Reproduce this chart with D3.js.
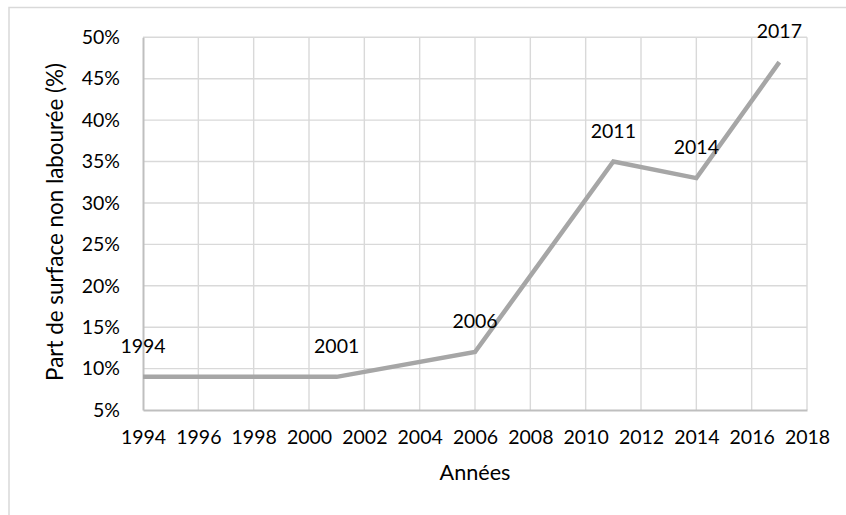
<!DOCTYPE html>
<html><head><meta charset="utf-8">
<script src="https://cdn.jsdelivr.net/npm/d3@7"></script>
<style>
html,body{margin:0;padding:0;background:#fff;}
svg text{font-family:Lato,"Open Sans",sans-serif;fill:#000;}
</style></head>
<body><svg id="c" width="846" height="515"></svg>
<script>
const years = [1994, 2001, 2006, 2011, 2014, 2017];
const shares = [9, 9, 12, 35, 33, 47];
const pointLabels = ["1994", "2001", "2006", "2011", "2014", "2017"];
const xTicks = [1994, 1996, 1998, 2000, 2002, 2004, 2006, 2008, 2010, 2012, 2014, 2016, 2018];
const yTicks = [5, 10, 15, 20, 25, 30, 35, 40, 45, 50];
const xTitle = "Années";
const yTitle = "Part de surface non labourée (%)";

const svg = d3.select("#c");
const L = 143, R = 807, T = 37.3, B = 410;
const x = d3.scaleLinear().domain([1994, 2018]).range([L, R]);
const y = d3.scaleLinear().domain([5, 50]).range([B, T]);

function fitSize(str, target) {
  const t = svg.append("text").attr("font-size", 20).text(str);
  const w = t.node().getComputedTextLength();
  t.remove();
  return 20 * target / w;
}
const fs = 19.5;
const fsX = fitSize(xTitle, 71);
const fsY = fitSize(yTitle, 318);

// outer frame
svg.append("rect").attr("x", 9).attr("y", 7.5).attr("width", 900).attr("height", 600)
  .attr("fill", "none").attr("stroke", "#d9d9d9").attr("stroke-width", 1.5);

// grid
svg.append("g").selectAll("line").data(yTicks.slice(1)).join("line")
  .attr("x1", L).attr("x2", R).attr("y1", d => y(d)).attr("y2", d => y(d))
  .attr("stroke", "#d9d9d9").attr("stroke-width", 1.4);
svg.append("g").selectAll("line").data(xTicks.slice(1)).join("line")
  .attr("x1", d => x(d)).attr("x2", d => x(d)).attr("y1", T).attr("y2", B)
  .attr("stroke", "#d9d9d9").attr("stroke-width", 1.4);

// axes
const xAxis = svg.append("g").attr("transform", `translate(0,${B})`)
  .call(d3.axisBottom(x).tickValues(xTicks).tickFormat(d3.format("d")).tickSize(0).tickPadding(34 - 0.71 * fs));
xAxis.select(".domain").attr("stroke", "#bfbfbf").attr("stroke-width", 2);
xAxis.selectAll("text").attr("font-size", fs).attr("font-family", "Lato");

const yAxis = svg.append("g").attr("transform", `translate(${L},0)`)
  .call(d3.axisLeft(y).tickValues(yTicks).tickFormat(d => d + "%").tickSize(0).tickPadding(23));
yAxis.select(".domain").attr("stroke", "#bfbfbf").attr("stroke-width", 2);
yAxis.selectAll("text").attr("font-size", fs).attr("font-family", "Lato");

// line
const data = years.map((d, i) => ({ year: d, v: shares[i], label: pointLabels[i] }));
svg.append("path").datum(data)
  .attr("d", d3.line().x(d => x(d.year)).y(d => y(d.v)))
  .attr("fill", "none").attr("stroke", "#a6a6a6").attr("stroke-width", 4.5)
  .attr("stroke-linejoin", "miter");

// point labels
svg.append("g").selectAll("text").data(data).join("text")
  .attr("x", d => x(d.year)).attr("y", d => y(d.v) - 24)
  .attr("text-anchor", "middle").attr("font-size", fs).text(d => d.label);

// titles
svg.append("text").attr("x", (L + R) / 2).attr("y", 479.5).attr("text-anchor", "middle")
  .attr("font-size", fsX).text(xTitle);
svg.append("text").attr("transform", `translate(63,222) rotate(-90)`)
  .attr("text-anchor", "middle").attr("font-size", fsY).text(yTitle);
</script></body></html>
